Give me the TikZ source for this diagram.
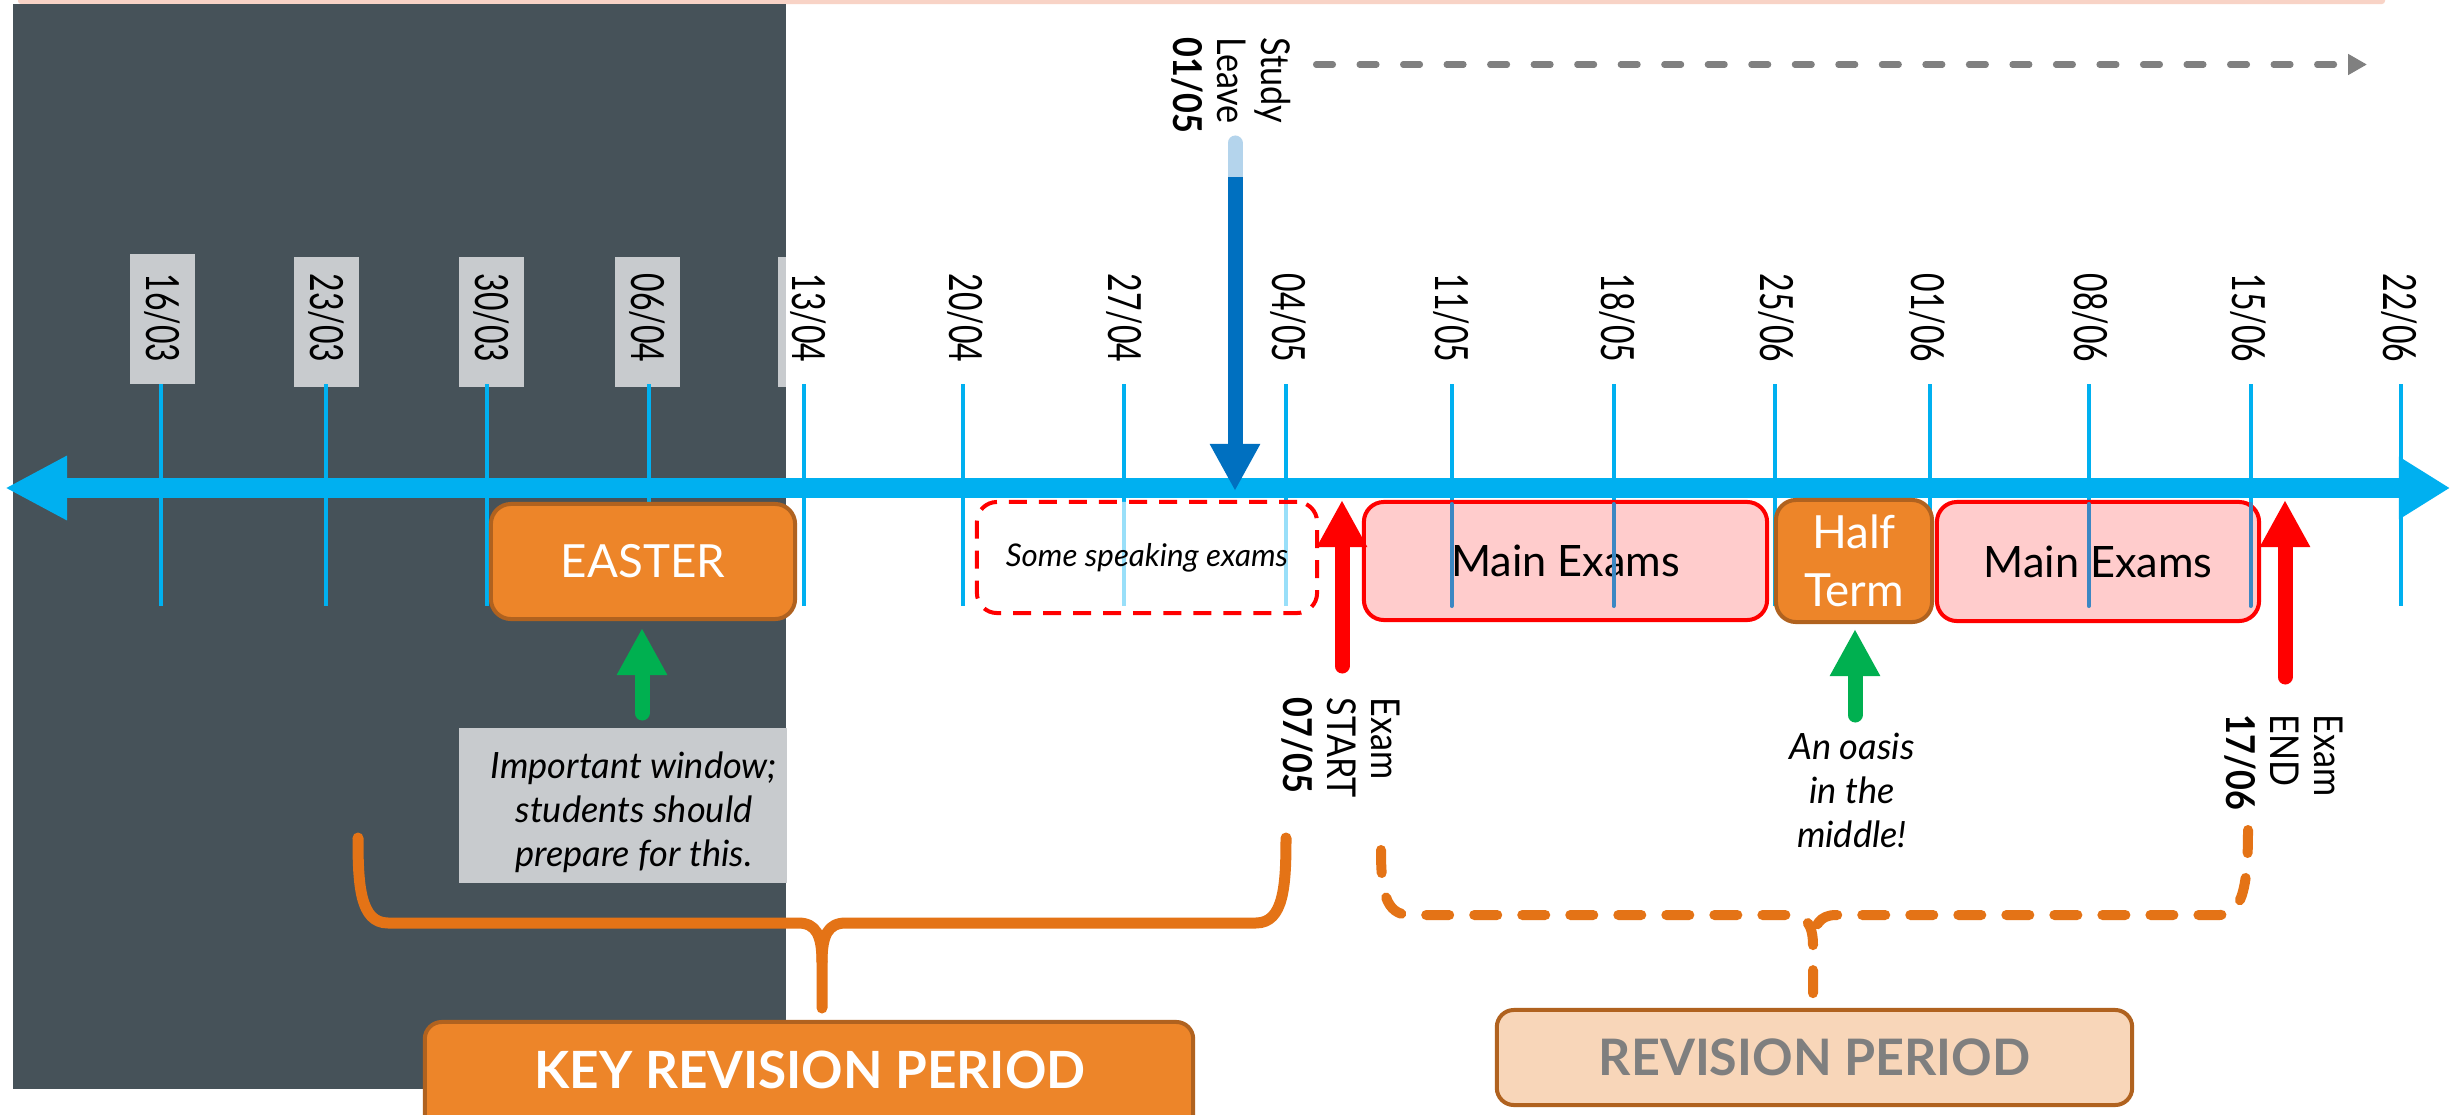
\documentclass[tikz,border=0pt]{standalone}
\usepackage{fontspec}
\setmainfont{Lato}
\newfontfamily\narrowfont{Lato}[FakeStretch=0.86]
\newfontfamily\datefont{Lato}[FakeStretch=0.70]
\usetikzlibrary{arrows.meta}
\definecolor{darkbg}{HTML}{465259}
\definecolor{lblgray}{HTML}{C8CBCE}
\definecolor{axisblue}{HTML}{00B0F0}
\definecolor{steelblue}{HTML}{3C87C3}
\definecolor{studyblue}{HTML}{0070C0}
\definecolor{studylight}{HTML}{B4D4EC}
\definecolor{exred}{HTML}{FF0000}
\definecolor{expink}{HTML}{FFCCCC}
\definecolor{orfill}{HTML}{ED8529}
\definecolor{orborder}{HTML}{B0621F}
\definecolor{braceor}{HTML}{E47316}
\definecolor{greenar}{HTML}{00B050}
\definecolor{dashgray}{HTML}{808080}
\definecolor{peach}{HTML}{F8D6B9}
\definecolor{revgray}{HTML}{7F7F7F}
\definecolor{toppink}{HTML}{F8D3C6}
\tikzset{
  datelbl/.style={rotate=-90, inner sep=0pt, font=\datefont\fontsize{13}{14}\selectfont},
  grayback/.style={fill=lblgray, inner sep=0pt, minimum width=0.65cm, minimum height=1.30cm},
  tickline/.style={axisblue, line width=0.04cm},
  innertick/.style={steelblue, line width=0.04cm, line cap=round},
  orbox/.style={fill=orfill, draw=orborder, line width=0.04cm, rounded corners=0.2cm, inner sep=0pt, text=white},
  exbox/.style={fill=expink, draw=exred, line width=0.04cm, rounded corners=0.2cm, inner sep=0pt, font=\fontsize{12.3}{14}\selectfont},
  sidelbl/.style={rotate=-90, anchor=west, align=left, inner sep=0pt, font=\narrowfont\fontsize{11.3}{12.5}\selectfont},
  blockarrow/.style={line width=0.15cm, -{Triangle[length=0.47cm,width=0.47cm]}},
  notetext/.style={align=center, inner sep=0pt, font=\itshape\fontsize{10.3}{12.5}\selectfont},
  bracestyle/.style={braceor, line width=0.11cm, line cap=round, line join=round},
}
\begin{document}
\begin{tikzpicture}[x=0.01cm,y=-0.01cm]
\useasboundingbox (0,0) rectangle (2450,1115);
\clip (0,0) rectangle (2450,1115);
\fill[white] (0,0) rectangle (2450,1115);
% top strip
\fill[toppink, rounded corners=0.03cm] (18,-10) rectangle (2385,4);
% dark panel
\fill[darkbg] (13,4) rectangle (786,1089);
% gray label backs
\node[grayback] (b1) at (162.5,319) {};
\node[grayback] (b2) at (326.5,322) {};
\node[grayback] (b3) at (491.5,322) {};
\node[grayback] (b4) at (647.5,322) {};
\fill[lblgray] (778,257) rectangle (786,387);
% important window box
\node[fill=lblgray, inner sep=0pt, minimum width=3.27cm, minimum height=1.55cm] (iwbox) at (623,805.5) {};
% ticks
\foreach \x in {160.6,325.8,487.4,649,803.7,963,1124.4,1285.7,1451.6,1613.5,1775,1929.6,2088.8,2250.5,2400.5}
  \draw[tickline] (\x,384) -- (\x,606);
% date labels
\node[datelbl] (l1) at (162.5,318) {16/03};
\node[datelbl] (l2) at (326.5,318) {23/03};
\node[datelbl] (l3) at (491,318) {30/03};
\node[datelbl] (l4) at (647.5,318) {06/04};
\node[datelbl] (l5) at (808,318) {13/04};
\node[datelbl] (l6) at (965,318) {20/04};
\node[datelbl] (l7) at (1124.5,318) {27/04};
\node[datelbl] (l8) at (1288,318) {04/05};
\node[datelbl] (l9) at (1451.5,318) {11/05};
\node[datelbl] (l10) at (1617,318) {18/05};
\node[datelbl] (l11) at (1776,318) {25/06};
\node[datelbl] (l12) at (1927,318) {01/06};
\node[datelbl] (l13) at (2090,318) {08/06};
\node[datelbl] (l14) at (2248,318) {15/06};
\node[datelbl] (l15) at (2399,318) {22/06};
% axis
\coordinate (axL) at (5,488);
\coordinate (axR) at (2450,488);
\draw[axisblue, line width=0.19cm, {Triangle[length=0.62cm,width=0.60cm]}-{Triangle[length=0.51cm,width=0.59cm]}] (axL) -- (axR);
% boxes
\node[orbox, minimum width=3.04cm, minimum height=1.15cm, font=\fontsize{13}{15}\selectfont] (easter) at (643,561.5) {EASTER};
\node[draw=exred, dashed, dash pattern=on 0.18cm off 0.12cm, fill=white, fill opacity=0.6, text opacity=1, line width=0.04cm, rounded corners=0.2cm, inner sep=0pt, minimum width=3.40cm, minimum height=1.11cm, font=\itshape\fontsize{8.9}{10}\selectfont] (speak) at (1147,557.5) {Some speaking exams};
\node[exbox, minimum width=4.03cm, minimum height=1.18cm] (main1) at (1565.5,561) {Main Exams};
\node[exbox, minimum width=3.22cm, minimum height=1.19cm] (main2) at (2098,561.5) {Main Exams};
\node[orbox, minimum width=1.56cm, minimum height=1.22cm, align=center, font=\fontsize{13}{16.5}\selectfont] (half) at (1854,561) {Half\\Term};
% ticks seen through the exam boxes
\foreach \x in {1451.6,1613.5,2088.8,2250.5}
  \draw[innertick] (\x,504) -- (\x,606);
% red arrows
\coordinate (startTail) at (1342,666);
\coordinate (startTip) at (1342,500);
\draw[exred, blockarrow, line cap=round] (startTail) -- (startTip);
\coordinate (endTail) at (2285,677);
\coordinate (endTip) at (2285,500);
\draw[exred, blockarrow, line cap=round] (endTail) -- (endTip);
% green arrows
\coordinate (gE1) at (642,713);
\coordinate (gE2) at (642,628);
\draw[greenar, blockarrow, line cap=round] (gE1) -- (gE2);
\coordinate (gH1) at (1855,715);
\coordinate (gH2) at (1855,629);
\draw[greenar, blockarrow, line cap=round] (gH1) -- (gH2);
% study leave arrow
\coordinate (slTop) at (1235,143);
\coordinate (slMid) at (1235,177);
\coordinate (slTip) at (1235,491);
\draw[studylight, line width=0.15cm, line cap=round] (slTop) -- (1235,180);
\draw[studyblue, blockarrow] (slMid) -- (slTip);
% gray dashed arrow
\coordinate (dashS) at (1316,64.5);
\coordinate (dashE) at (2367,64.5);
\draw[dashgray, line width=0.06cm, line cap=round, dash pattern=on 0.17cm off 0.265cm, -{Triangle[length=0.19cm,width=0.20cm]}] (dashS) -- (dashE);
% side labels
\node[sidelbl] (study) at (1231,37) {Study\\Leave\\\textbf{01/05}};
\node[sidelbl] (exstart) at (1341,697) {Exam\\START\\\textbf{07/05}};
\node[sidelbl] (exend) at (2284,714) {Exam\\END\\\textbf{17/06}};
% notes
\node[notetext] (iwtext) at (634,812) {Important window;\\students should\\prepare for this.};
\node[notetext] (oasis) at (1852,790) {An oasis\\in the\\middle!};
% solid brace
\draw[bracestyle] (358,838) .. controls (358,885) and (360,923) .. (388,923) -- (798,923) .. controls (816,923) and (822,935) .. (822,962) -- (822,1008);
\draw[bracestyle] (1286,838) .. controls (1286,885) and (1284,923) .. (1256,923) -- (846,923) .. controls (828,923) and (822,935) .. (822,962);
% dashed brace
\draw[bracestyle, line width=0.10cm, dash pattern=on 0.23cm off 0.25cm] (1381,850) .. controls (1381,890) and (1385,915) .. (1410,915) -- (1790,915) .. controls (1806,915) and (1813,925) .. (1813,945) -- (1813,1001);
\draw[bracestyle, line width=0.10cm, dash pattern=on 0.23cm off 0.25cm] (2248,830) .. controls (2248,880) and (2244,915) .. (2220,915) -- (1836,915) .. controls (1820,915) and (1813,925) .. (1813,945);
% bottom boxes
\node[orbox, rounded corners=0.17cm, minimum width=7.68cm, minimum height=1.2cm] (key) at (809,1082) {};
\node[text=white, inner sep=0pt, font=\bfseries\fontsize{14.6}{16}\selectfont] (keytxt) at (810,1070) {KEY REVISION PERIOD};
\node[fill=peach, draw=orborder, line width=0.04cm, rounded corners=0.17cm, inner sep=0pt, minimum width=6.35cm, minimum height=0.95cm, text=revgray, font=\bfseries\fontsize{14.3}{16}\selectfont] (rev) at (1814.5,1057.5) {REVISION PERIOD};
\end{tikzpicture}
\end{document}
